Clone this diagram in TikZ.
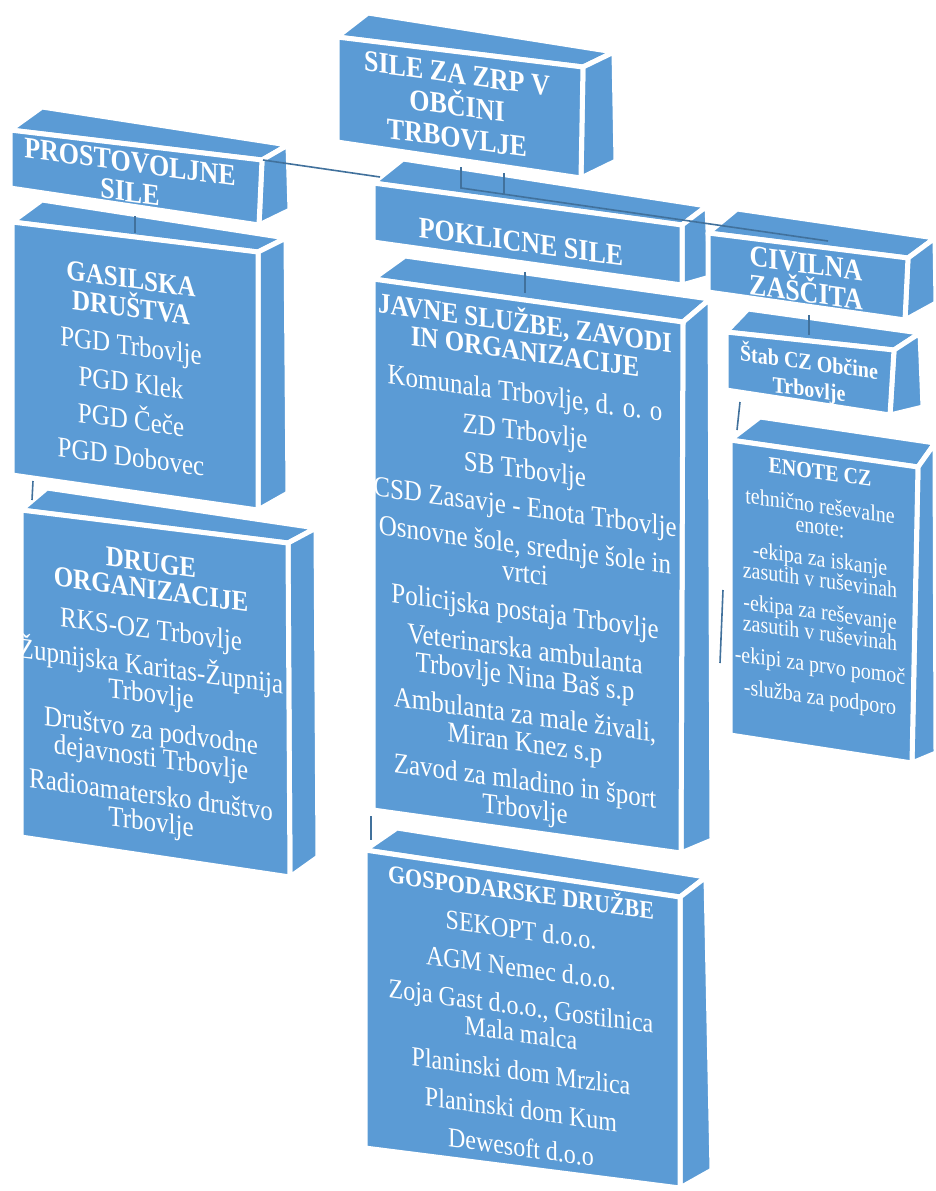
\documentclass[tikz,border=0pt]{standalone}
\usepackage{fontspec}
\setmainfont{Liberation Serif}
\definecolor{boxblue}{HTML}{5B9BD5}
\definecolor{linkblue}{HTML}{41719C}
\newcommand\drawprism[8]{%
  \coordinate (#1-tl) at (#2);
  \coordinate (#1-tr) at (#3);
  \coordinate (#1-br) at (#4);
  \coordinate (#1-bl) at (#5);
  \coordinate (#1-blt) at (#6);
  \coordinate (#1-brt) at (#7);
  \coordinate (#1-brb) at (#8);
  \path[face] (#1-tl) -- (#1-blt) -- (#1-brt) -- (#1-tr) -- cycle;
  \path[face] (#1-tr) -- (#1-brt) -- (#1-brb) -- (#1-br) -- cycle;
  \path[face] (#1-tl) -- (#1-tr) -- (#1-br) -- (#1-bl) -- cycle;
}
\newcommand\facetext[4]{%
  \begin{scope}[shift={(#2)}]
    \node[facetxt, font={\lineskiplimit=-50pt #3}] (#1) at (0,0) {#4};
  \end{scope}}
\begin{document}
\begin{tikzpicture}[x=1pt,y=-1pt,
  face/.style={fill=boxblue, draw=white, line width=5pt, line join=round},
  facetxt/.style={text=white, align=center, yslant=-0.137, yscale=1.15, inner sep=0pt},
  link/.style={draw=linkblue, line width=1.6pt}]
\fill[white] (0,0) rectangle (936,1191);
\useasboundingbox (0,0) rectangle (936,1191);

% boxes (back to front)
\drawprism{root}{337,37}{583,67}{581,178}{337,142}{368,13}{614,52}{616,161}
\drawprism{pros}{10,130}{262,160}{259,225}{10,188}{42,107}{288,145}{290,210}
\drawprism{pok}{373,183}{682,225}{682,285}{373,242}{403,159}{707,206}{710,277}
\drawprism{civ}{708,233}{908,258}{905,320}{708,292}{737,209}{935,238}{936,303}
\drawprism{gas}{12,222}{258,252}{258,510}{12,475}{42,200}{286,238}{288,493}
\drawprism{jav}{373,279}{683,322}{681,853}{373,810}{405,256}{710,299}{712,840}
\drawprism{stab}{726,332}{894,350}{890,415}{726,390}{748,309}{920,333}{923,407}
\drawprism{dru}{21,510}{288,543}{290,877}{21,837}{47,488}{316,528}{318,857}
\drawprism{gos}{365,850}{680,897}{680,1188}{365,1148}{397,828}{706,877}{712,1170}
\drawprism{eno}{730,440}{918,467}{912,763}{730,735}{760,417}{935,443}{936,753}

% connectors (visible parts)
\coordinate (busL) at (263,160);
\coordinate (busLend) at (380,177);
\coordinate (rootdrop) at (461,167);
\coordinate (busmid) at (461,188);
\coordinate (busR) at (828,241);
\coordinate (pokT) at (504,173);
\coordinate (pokB) at (504,194);
\coordinate (gasT) at (135,216);
\coordinate (gasB) at (135,233);
\coordinate (javT) at (525,272);
\coordinate (javB) at (525,293);
\coordinate (stabT) at (809,315);
\coordinate (stabB) at (809,335);
\coordinate (druT) at (33,481);
\coordinate (druB) at (32,500);
\coordinate (gosT) at (371,816);
\coordinate (gosB) at (371,840);
\coordinate (enoT1) at (740,402);
\coordinate (enoB1) at (737,430);
\coordinate (enoT2) at (723,590);
\coordinate (enoB2) at (720,663);
\draw[link] (busL) -- (busLend);
\draw[link] (rootdrop) -- (busmid) -- (busR);
\draw[link] (pokT) -- (pokB);
\draw[link] (gasT) -- (gasB);
\draw[link] (javT) -- (javB);
\draw[link] (stabT) -- (stabB);
\draw[link] (druT) -- (druB);
\draw[link] (gosT) -- (gosB);
\draw[link] (enoT1) -- (enoB1);
\draw[link] (enoT2) -- (enoB2);

% texts
\facetext{t-root}{457,106}{\bfseries\fontsize{26}{27.8}\selectfont}{SILE ZA ZRP V\\OBČINI\\TRBOVLJE}
\facetext{t-pros}{130,177}{\bfseries\fontsize{26}{26}\selectfont}{PROSTOVOLJNE\\SILE}
\facetext{t-pok}{521,242}{\bfseries\fontsize{26}{26}\selectfont}{POKLICNE SILE}
\facetext{t-civ}{806,278}{\bfseries\fontsize{26}{25.2}\selectfont}{CIVILNA\\ZAŠČITA}
\facetext{t-gas}{131,368}{\fontsize{25}{25.2}\selectfont}{\textbf{GASILSKA}\\\textbf{DRUŠTVA}\\[7.8pt]PGD Trbovlje\\[7pt]PGD Klek\\[7pt]PGD Čeče\\[7pt]PGD Dobovec}
\facetext{t-dru}{151,695}{\fontsize{25}{23.5}\selectfont}{\textbf{DRUGE}\\\textbf{ORGANIZACIJE}\\[11.3pt]RKS-OZ Trbovlje\\[8.7pt]Župnijska Karitas-Župnija\\Trbovlje\\[8.7pt]Društvo za podvodne\\dejavnosti Trbovlje\\[8.7pt]Radioamatersko društvo\\Trbovlje}
\facetext{t-jav}{525,566}{\fontsize{25}{24.3}\selectfont}{\textbf{JAVNE SLUŽBE, ZAVODI}\\\textbf{IN ORGANIZACIJE}\\[12.2pt]Komunala Trbovlje, d. o. o\\[8.7pt]ZD Trbovlje\\[8.7pt]SB Trbovlje\\[8.7pt]CSD Zasavje - Enota Trbovlje\\[8.7pt]Osnovne šole, srednje šole in\\vrtci\\[8.7pt]Policijska postaja Trbovlje\\[8.7pt]Veterinarska ambulanta\\Trbovlje Nina Baš s.p\\[8.7pt]Ambulanta za male živali,\\Miran Knez s.p\\[8.7pt]Zavod za mladino in šport\\Trbovlje}
\facetext{t-gos}{521,1018}{\fontsize{24}{23.5}\selectfont}{\textbf{\fontsize{22}{23.5}\selectfont GOSPODARSKE DRUŽBE}\\[9.6pt]SEKOPT d.o.o.\\[9.6pt]AGM Nemec d.o.o.\\[9.6pt]Zoja Gast d.o.o., Gostilnica\\Mala malca\\[9.6pt]Planinski dom Mrzlica\\[9.6pt]Planinski dom Kum\\[9.6pt]Dewesoft d.o.o}
\facetext{t-stab}{809,376}{\bfseries\fontsize{20}{23.5}\selectfont}{Štab CZ Občine\\Trbovlje}
\facetext{t-eno}{820,587}{\fontsize{20}{18.3}\selectfont}{\textbf{ENOTE CZ}\\[11.3pt]tehnično reševalne\\enote:\\[9.6pt]-ekipa za iskanje\\zasutih v ruševinah\\[9.6pt]-ekipa za reševanje\\zasutih v ruševinah\\[9.6pt]-ekipi za prvo pomoč\\[9.6pt]-služba za podporo}
\end{tikzpicture}
\end{document}
